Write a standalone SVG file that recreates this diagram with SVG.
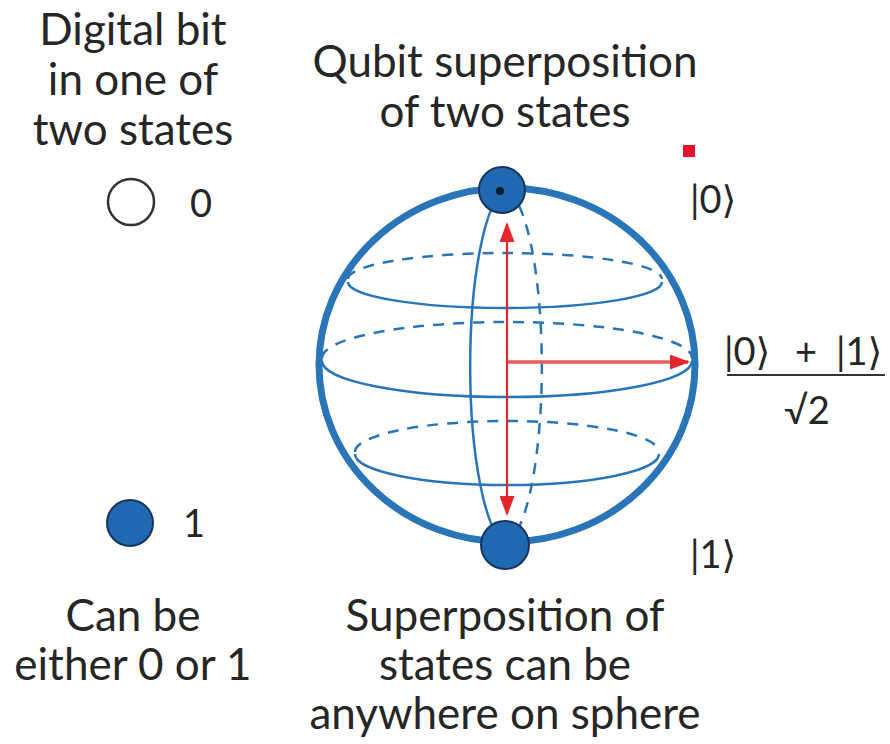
<svg xmlns="http://www.w3.org/2000/svg" width="890" height="744" viewBox="0 0 890 744">
  <style>
    .t { font-family: Lato, "Open Sans", "DejaVu Sans", sans-serif; font-size: 44px; fill: #262626; text-anchor: middle; }
    .k { font-family: Lato, "Open Sans", "DejaVu Sans", sans-serif; font-size: 38px; fill: #262626; }
    .solid { fill: none; stroke: #2a74b8; stroke-width: 2.5; }
    .dash { fill: none; stroke: #2a74b8; stroke-width: 2.5; stroke-dasharray: 11 9; }
    .pole { fill: #2068b0; stroke: #15355f; stroke-width: 2; }
  </style>
  <defs>
    <marker id="head" viewBox="0 0 10 10" refX="9" refY="5" markerWidth="20" markerHeight="15" markerUnits="userSpaceOnUse" orient="auto-start-reverse" preserveAspectRatio="none">
      <path d="M0,0 L10,5 L0,10 z" fill="#e2272d"/>
    </marker>
  </defs>

  <rect width="890" height="744" fill="#ffffff"/>

  <!-- classical bit -->
  <g id="bit">
    <text class="t" x="133" y="45">Digital bit</text>
    <text class="t" x="133" y="95">in one of</text>
    <text class="t" x="133" y="145">two states</text>
    <circle cx="131" cy="202" r="23" fill="#ffffff" stroke="#333333" stroke-width="2.5"/>
    <text class="t" x="201" y="217" style="font-size:38px">0</text>
    <circle cx="130" cy="523" r="23" class="pole"/>
    <text class="t" x="194" y="537" style="font-size:38px">1</text>
    <text class="t" x="133" y="631">Can be</text>
    <text class="t" x="133" y="680">either 0 or 1</text>
  </g>

  <!-- qubit heading -->
  <g id="qubit-title">
    <text class="t" x="505" y="77">Qubit superposition</text>
    <text class="t" x="505" y="127">of two states</text>
  </g>

  <g id="qubit-caption">
    <text class="t" x="505" y="631">Superposition of</text>
    <text class="t" x="505" y="680">states can be</text>
    <text class="t" x="505" y="729">anywhere on sphere</text>
  </g>

  <!-- Bloch sphere -->
  <g id="sphere">
    <!-- latitude rings: back halves dashed, front halves solid -->
    <path class="dash" d="M348,279 A157,26 0 0 1 662,279"/>
    <path class="solid" d="M348,282 A157,26 0 0 0 662,282"/>
    <path class="dash" d="M322,358 A185,36 0 0 1 692,358"/>
    <path class="solid" d="M322,361 A185,36 0 0 0 692,361"/>
    <path class="dash" d="M355,452 A152,31 0 0 1 659,452"/>
    <path class="solid" d="M355,454 A152,31 0 0 0 659,454"/>
    <!-- meridian -->
    <path class="solid" d="M505,190 A40,178 0 0 0 505,543"/>
    <path class="dash" d="M507,190 A40,178 0 0 1 507,543"/>
    <!-- outline -->
    <ellipse cx="507" cy="365" rx="188" ry="177" fill="none" stroke="#2a74b8" stroke-width="7"/>
  </g>

  <g id="connectors">
    <line x1="507" y1="224" x2="507" y2="514" stroke="#e2272d" stroke-width="2.2" marker-start="url(#head)" marker-end="url(#head)"/>
    <line x1="508" y1="362" x2="688" y2="362" stroke="#ea5a5e" stroke-width="3.5" marker-end="url(#head)"/>
  </g>

  <g id="pole-0">
    <circle cx="502" cy="190" r="23" class="pole"/>
    <circle cx="500" cy="191" r="4" fill="#0a1a33"/>
    <text class="k" x="690" y="213">|0⟩</text>
    <rect x="683" y="145" width="12" height="12" fill="#e8112d"/>
  </g>

  <g id="pole-1">
    <circle cx="505" cy="545" r="24" class="pole"/>
    <text class="k" x="690" y="568">|1⟩</text>
  </g>

  <g id="equal-state">
    <text class="k" y="365"><tspan x="724">|0⟩</tspan><tspan x="795">+</tspan><tspan x="836">|1⟩</tspan></text>
    <line x1="727" y1="375" x2="885" y2="375" stroke="#333333" stroke-width="1.8"/>
    <text class="k" x="807" y="424" text-anchor="middle">√2</text>
  </g>
</svg>
